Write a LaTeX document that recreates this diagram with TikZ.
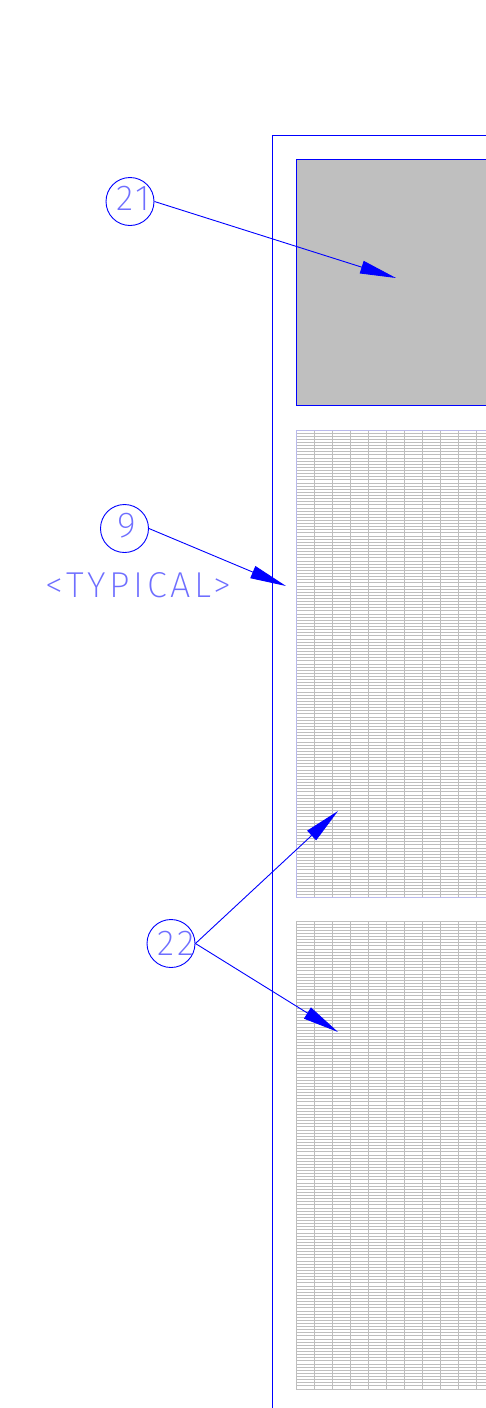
\documentclass[tikz,border=0pt]{standalone}
\usepackage{fontspec}
\newfontfamily\cadfont[LetterSpace=10]{Fira Sans ExtraLight}
\usetikzlibrary{arrows.meta}
\definecolor{cadblue}{RGB}{0,0,255}
\definecolor{cadtext}{RGB}{110,110,255}
\definecolor{meshgray}{RGB}{190,190,190}
\definecolor{meshedge}{RGB}{185,185,235}

\begin{document}
\begin{tikzpicture}[x=1pt,y=-1pt]

\tikzset{callout/.style = {shape=circle,draw=cadblue,line width=0.9pt,minimum size=48pt,inner sep=0pt}}
\tikzset{cadtext/.style = {text=cadtext,font=\cadfont\fontsize{36}{36}\selectfont,inner sep=0pt}}
\tikzset{leader/.style = {draw=cadblue,line width=0.9pt,-{Triangle[length=36pt,width=13pt]}}}
\tikzset{frameline/.style = {draw=blue,line width=1.2pt}}
\tikzset{meshline/.style = {draw=meshgray,line width=1pt}}
\tikzset{panel/.style = {draw=meshedge,line width=1pt}}

\useasboundingbox (0,0) rectangle (486,1408);
%solid panel
\draw [draw=cadblue,line width=0.7pt,fill=black!25] (296.5,159.5) rectangle (500,405.5);
%mesh panels
\foreach \ytop/\ybot in {430/897,921/1389}{
  \foreach \x in {296.5,314.5,...,486}
    \draw [meshline] (\x,\ytop) -- (\x,\ybot);
  \pgfmathsetmacro{\nextline}{\ytop+3.12}
  \foreach \y in {\ytop,\nextline,...,\ybot}
    \draw [meshline] (296,\y) -- (486,\y);
}
\draw [panel] (486,430.5) -- (296.5,430.5) -- (296.5,897.5) -- (486,897.5);
%frame
\coordinate (fbot) at (272.6,1408);
\coordinate (fcorner) at (272.6,135.5);
\coordinate (fright) at (486,135.5);
\draw [frameline] (fbot) -- (fcorner) -- (fright);
%callouts
\node[callout, label={[cadtext,xshift=3.5pt,yshift=3pt]center:21}] (c21) at (130,201.5) {};
\node[callout, label={[cadtext,yshift=3pt,xshift=2pt]center:9}] (c9) at (124.5,528.5) {};
\node[callout, label={[cadtext,xshift=5pt]center:22}] (c22) at (171,943.5) {};
\node[cadtext] (typ) at (138.5,585) {<TYPICAL>};
%targets
\coordinate (t21) at (396,278);
\coordinate (t9) at (286,586);
\coordinate (t22a) at (338,811);
\coordinate (t22b) at (338,1032);
%leaders
\draw [leader] (c21.east) -- (t21);
\draw [leader] (c9.east) -- (t9);
\draw [leader] (c22.east) -- (t22a);
\draw [leader] (c22.east) -- (t22b);

\end{tikzpicture}
\end{document}
